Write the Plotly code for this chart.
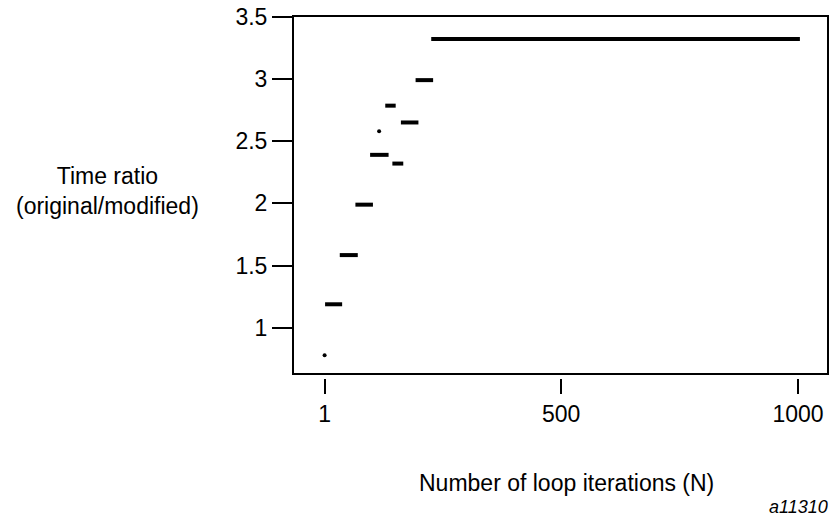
import plotly.graph_objects as go

# Step segments: (start N, end N, time ratio)
seg_start = [2, 33, 66, 97, 129, 144, 162, 193, 226]
seg_end = [38, 71, 103, 136, 151, 167, 199, 230, 1004]
seg_ratio = [1.19, 1.585, 1.99, 2.39, 2.785, 2.32, 2.65, 2.99, 3.32]

# Isolated points
pt_n = [1, 116]
pt_ratio = [0.78, 2.58]

x_ticks = [1, 500, 1000]
y_ticks = [1, 1.5, 2, 2.5, 3, 3.5]
y_tick_text = ["1", "1.5", "2", "2.5", "3", "3.5"]

FONT = "Liberation Sans, Arial, Helvetica, sans-serif"
FS = 23

xs, ys = [], []
for a, b, r in zip(seg_start, seg_end, seg_ratio):
    xs += [a, b, None]
    ys += [r, r, None]

fig = go.Figure()
fig.add_trace(go.Scatter(x=xs, y=ys, mode="lines",
                         line=dict(color="black", width=4), hoverinfo="skip"))
fig.add_trace(go.Scatter(x=pt_n, y=pt_ratio, mode="markers",
                         marker=dict(color="black", size=4), hoverinfo="skip"))

fig.update_layout(
    width=833, height=516,
    margin=dict(l=293, r=5, t=16, b=138),
    paper_bgcolor="white", plot_bgcolor="white",
    showlegend=False,
    font=dict(family=FONT, size=FS, color="black"),
    xaxis=dict(range=[-65.7, 1063.3], tickvals=x_ticks, ticktext=[str(v) for v in x_ticks],
               ticks="outside", ticklen=15, tickwidth=2, tickcolor="black",
               showline=False, showgrid=False, zeroline=False,
               anchor="free", position=0,
               tickfont=dict(family=FONT, size=FS, color="black")),
    yaxis=dict(range=[0.63, 3.505], domain=[0.011, 1], tickvals=y_ticks, ticktext=y_tick_text,
               ticks="outside", ticklen=20, tickwidth=1.5, tickcolor="black",
               showline=False, showgrid=False, zeroline=False,
               tickfont=dict(family=FONT, size=FS, color="black")),
    shapes=[dict(type="rect", xref="x domain", yref="y domain", x0=0, x1=1, y0=0, y1=1,
                 line=dict(color="black", width=2), fillcolor="rgba(0,0,0,0)", layer="above")],
    annotations=[
        dict(text="Time ratio<br>(original/modified)", xref="paper", yref="paper",
             x=-0.3458, y=0.5166, xanchor="center", yanchor="middle", showarrow=False,
             font=dict(family=FONT, size=FS, color="black")),
        dict(text="Number of loop iterations (N)", xref="paper", yref="paper",
             x=0.511, y=-0.29, xanchor="center", yanchor="middle", showarrow=False,
             font=dict(family=FONT, size=FS, color="black")),
        dict(text="<i>a11310</i>", xref="paper", yref="paper",
             x=1.0037, y=-0.356, xanchor="right", yanchor="middle", showarrow=False,
             font=dict(family=FONT, size=18, color="black")),
    ],
)

fig.write_html("out.html")
